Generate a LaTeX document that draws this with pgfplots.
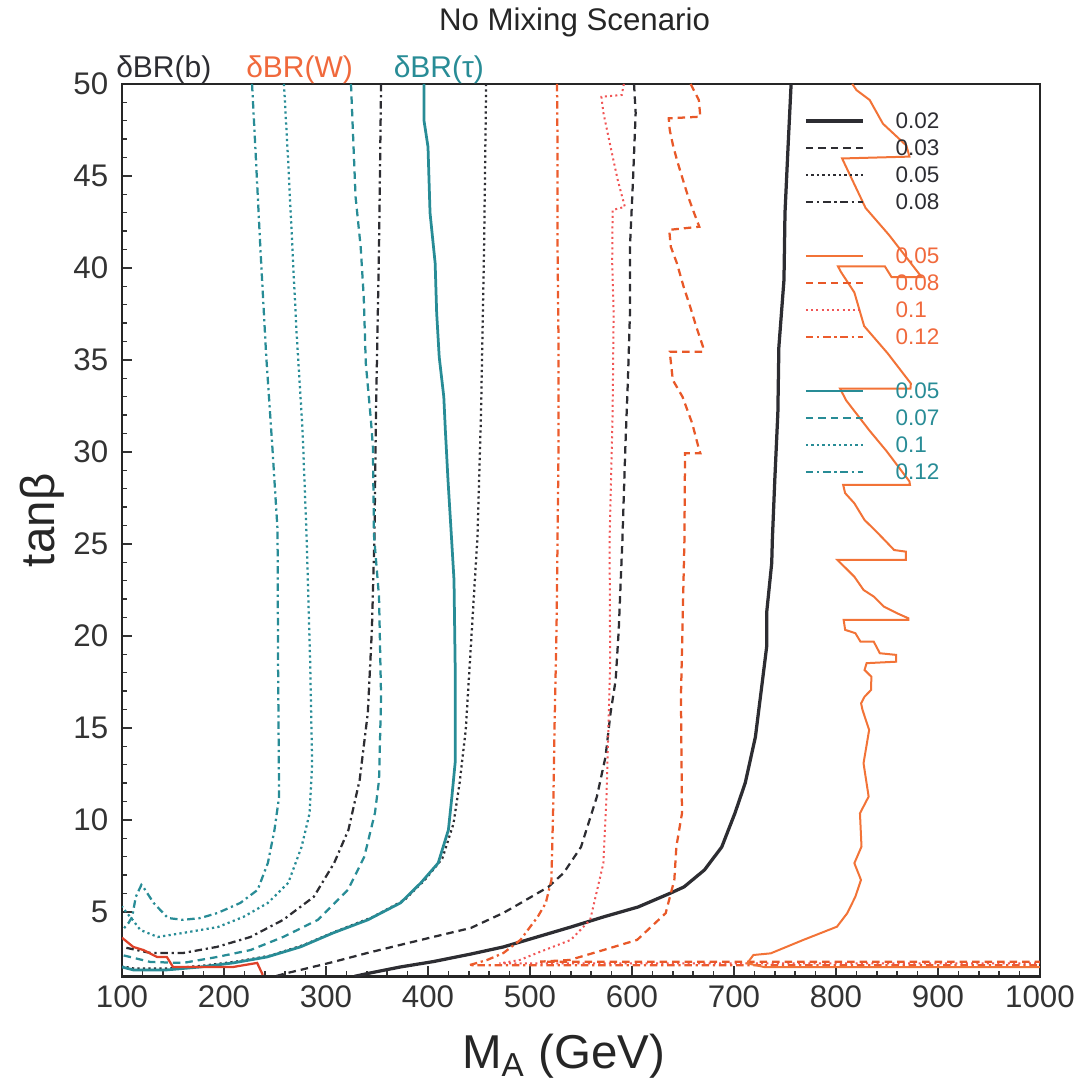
\documentclass[border=0pt]{standalone}
\usepackage{fontspec}
\setmainfont{Liberation Sans}
\usepackage{pgfplots}
\pgfplotsset{compat=1.18}

\definecolor{bcol}{RGB}{45,45,50}
\definecolor{tcol}{RGB}{40,140,150}
\definecolor{wsol}{RGB}{242,115,55}
\definecolor{wdash}{RGB}{232,88,40}
\definecolor{wdot}{RGB}{240,85,85}
\definecolor{wdd}{RGB}{236,92,45}
\definecolor{wtxt}{RGB}{240,105,60}
\definecolor{wred}{RGB}{222,65,40}

\tikzset{
  bsol/.style={draw=bcol, line width=1.3pt},
  bdash/.style={draw=bcol, line width=0.9pt, dash pattern=on 3pt off 2pt},
  bdot/.style={draw=bcol, line width=0.9pt, dash pattern=on 0.9pt off 1.3pt},
  bdd/.style={draw=bcol, line width=0.9pt, dash pattern=on 3pt off 1.5pt on 0.9pt off 1.5pt},
  wsolst/.style={draw=wsol, line width=0.8pt},
  wdashst/.style={draw=wdash, line width=0.9pt, dash pattern=on 3pt off 2pt},
  wdotst/.style={draw=wdot, line width=0.8pt, dash pattern=on 0.8pt off 1.3pt},
  wddst/.style={draw=wdd, line width=0.9pt, dash pattern=on 3pt off 1.5pt on 0.9pt off 1.5pt},
  tsol/.style={draw=tcol, line width=1.1pt},
  tdash/.style={draw=tcol, line width=0.9pt, dash pattern=on 3pt off 2pt},
  tdot/.style={draw=tcol, line width=0.9pt, dash pattern=on 0.9pt off 1.3pt},
  tdd/.style={draw=tcol, line width=0.9pt, dash pattern=on 3pt off 1.5pt on 0.9pt off 1.5pt},
}

\begin{document}
\begin{tikzpicture}
\begin{axis}[
  width=367.2pt, height=356.96pt, scale only axis,
  xmin=100, xmax=1000, ymin=1.5, ymax=50,
  xtick={100,200,...,1000}, ytick={5,10,...,50},
  minor x tick num=4, minor y tick num=4,
  tick align=inside, tick pos=left,
  major tick length=4pt, minor tick length=2.2pt,
  axis line style={line width=1pt, draw=black!85},
  every tick/.style={black!80, line width=0.6pt},
  tick label style={font=\fontsize{12.5}{14}\selectfont, text=black!80},
  /pgf/number format/assume math mode=true,
  /pgf/number format/1000 sep={},
  yticklabel style={xshift=-2pt},
  xlabel={M\textsubscript{A} (GeV)},
  xlabel style={at={(rel axis cs:0.481,0)}, anchor=base, yshift=-36.8pt,
    font=\fontsize{19}{22}\selectfont, text=black!85},
  ylabel={tanβ},
  ylabel style={at={(rel axis cs:-0.0865,0.511)}, anchor=center, rotate=0,
    font=\fontsize{19}{22}\selectfont, text=black!85},
  legend image code/.code={\draw[#1] (0pt,0pt) -- (22.8pt,0pt);},
  legend cell align=left,
  legend style={at={(axis cs:761,48.72)}, anchor=north west, draw=none, fill=none,
    font=\fontsize{9}{10}\selectfont, row sep=4.4pt, column sep=12.5pt,
    nodes={inner sep=0pt, text height=6.4pt, text depth=0pt}},
]

% delta BR(b), black
\addplot[bsol, forget plot] coordinates {
(756,50) (753,46.58) (750,42.99) (749,39.35) (744,35.71) (743,32.12) (740,28.48)
(737.6,25.22) (737,23.97) (732,21.25) (732,19.4) (728,17.61) (721,14.51) (711,12.01)
(701,10.38) (688,8.53) (671,7.28) (651,6.36) (638,6.03) (606,5.27) (572,4.73)
(540,4.18) (507,3.64) (474,3.1) (441,2.7) (405,2.3) (373,2.01) (343,1.68) (328,1.5)};
\addplot[bdash, forget plot] coordinates {
(602,50) (603.6,48.42) (601,44.78) (598,41.14) (598,37.55) (596,33.91) (593.5,30.27)
(590.6,25.22) (587,20.33) (584,17.61) (579,15.82) (574,13.42) (565.5,11.25) (550,8.53)
(533,7.12) (518,6.36) (491,5.49) (474,4.95) (442,4.13) (405,3.64) (373,3.21)
(340.5,2.77) (307,2.28) (275,1.85) (262,1.68) (250,1.5)};
\addplot[bdot, forget plot] coordinates {
(457,50) (455,41.14) (452,32.12) (448.5,25.38) (443,20.33) (437,14.89) (431,12.01)
(425,9.8) (414,7.9) (397,6.75) (377,5.65) (345,4.7) (310,3.95) (278,3.2) (245,2.62)
(212,2.3) (178,2.07) (145,1.92) (112,1.92) (100,2.05)};
\addplot[bdd, forget plot] coordinates {
(354,50) (352,41.14) (349,32.12) (347.5,25.38) (345,20.33) (341,15.82) (333,12.17)
(322,9.46) (308,7.66) (288,5.82) (258,4.57) (226,3.64) (193,3.1) (160,2.77)
(128,2.77) (100,3.1)};

% delta BR(tau), teal
\addplot[tsol, forget plot] coordinates {
(396,50) (396,48.04) (400,46.58) (402,42.99) (407,40.27) (408.5,37.55) (411,35.16)
(415.5,32.99) (417,31.2) (419.6,28.48) (423,25.38) (425.5,23.04) (426.6,18.53)
(426.6,13.1) (423.4,11.25) (420,9.46) (410,7.66) (393,6.58) (373,5.49) (341,4.57)
(307,3.86) (275,3.1) (242,2.55) (209,2.23) (177,2.01) (144,1.85) (111,1.85) (100,2.01)};
\addplot[tdash, forget plot] coordinates {
(324.5,50) (327,46.58) (329,43.86) (334,41.14) (337,38.42) (339,34.84) (344,31.74)
(346,30.27) (347,25.5) (352,22.12) (354,16.68) (352,12.17) (348,10.38) (337.5,7.99)
(321.5,6.2) (292,4.57) (258,3.64) (226,2.93) (193,2.55) (160,2.23) (128,2.28) (100,2.66)};
\addplot[tdot, forget plot] coordinates {
(258.8,50) (263,45.71) (267,41.14) (271,36.63) (277,31.2) (281,25.38) (284.5,18.53)
(286.4,13.1) (284,10.38) (276,8.53) (263,6.58) (243,5.49) (219,4.73) (194,4.18)
(160,3.86) (135,3.64) (118,4.02) (110,4.6) (104,5.0) (100,5.3)};
\addplot[tdd, forget plot] coordinates {
(227.5,50) (230.7,46.58) (235.6,41.14) (241.4,35.2) (247.4,30.27) (252.5,25.76)
(253,18.53) (254,11.25) (249.5,9.46) (243,7.66) (233,6.2) (216,5.49) (194,4.95)
(177,4.67) (160,4.57) (145,4.67) (131,5.49) (121.5,6.3) (119,6.47) (113.5,5.82)
(110,4.73) (106.4,4.4) (100.5,4.02)};

% delta BR(W), orange
\addplot[wddst, forget plot] coordinates {
(526.5,50) (527,46.58) (527,41.14) (528,35.71) (528,30.27) (527,25.22) (526,20.33)
(524,14.89) (523,11.25) (521,6.74) (515.5,5.49) (507.5,4.73) (490.6,3.48) (474,2.77)
(458,2.39) (440,2.1) (1000,2.1)};
\addplot[wdotst, forget plot] coordinates {
(592,50) (590,49.4) (570,49.3) (572,48.42) (579,46.58) (586,44.78) (593,43.32)
(581,43.15) (580.6,40.27) (582,37.55) (581,32.12) (578,25.22) (578.6,18.53) (575,11.25)
(572,7.66) (559,4.57) (540,3.48) (507,2.77) (490,2.39) (470,2.2) (1000,2.2)};
\addplot[wdashst, forget plot] coordinates {
(657.5,50) (665.5,49.13) (667,48.22) (636,48.13) (637,47.5) (640.5,46.59) (645,45.69)
(650,44.78) (655,43.88) (661,42.97) (666,42.24) (636.5,42.07) (638,41.16) (644,40.26)
(650.6,38.98) (657,37.9) (663,36.81) (669.6,35.72) (669.6,35.45) (637,35.45) (640,33.91)
(649.5,33.0) (659,31.56) (665,30.29) (667,29.93) (652,29.93) (651.4,25.22) (648,16.7)
(649,10.36) (643.5,8.55) (641.5,6.74) (633,4.93) (605,3.48) (572,2.93) (539,2.39)
(510,2.3) (1000,2.3)};
\addplot[wsolst, forget plot] coordinates {
(816,50) (820,49.67) (833,49.13) (846,47.84) (869,46.65) (872,46.05) (806,45.95)
(829,43.26) (852,41.79) (884,39.5) (854.5,39.5) (848,40.08) (802,40.08) (805,39.77)
(818,38.67) (827.6,36.84) (850.5,35.37) (873.4,33.72) (873,33.44) (804,33.44)
(810,32.8) (833,31.15) (849.5,30.05) (872,28.4) (872.5,28.21) (807,28.21) (809,27.76)
(818,27.21) (828,26.3) (838,25.76) (847.5,25.22) (857,24.67) (868.6,24.58) (868.5,24.13)
(801.5,24.13) (808,23.77) (818,23.22) (827,22.5) (837,22.14) (847,21.59) (860,21.23)
(871,20.96) (871,20.87) (807.5,20.87) (809,20.33) (819,20.15) (824,19.69) (837,19.69)
(843,19.06) (859,18.97) (859,18.6) (830,18.52) (828,18.15) (834.6,17.79) (834.5,17.07)
(828,16.7) (824.6,16.34) (826,15.98) (832.5,14.89) (827,13.08) (832,11.27) (823.5,10.36)
(825,8.55) (818,7.65) (824.5,6.74) (819,5.83) (811,4.93) (801,4.2) (768,3.48)
(736,2.75) (719,2.66) (713,2.21) (730,2.0) (1000,2.0)};
\addplot[draw=wred, line width=0.9pt, forget plot] coordinates {
(100,3.6) (111,3.1) (121,2.93) (134.5,2.55) (144,2.55) (150,2.01) (209,2.01)
(232.5,2.23) (238,1.58)};

% legend
\addlegendimage{bsol}\addlegendentry{\textcolor{bcol}{0.02}}
\addlegendimage{bdash}\addlegendentry{\textcolor{bcol}{0.03}}
\addlegendimage{bdot}\addlegendentry{\textcolor{bcol}{0.05}}
\addlegendimage{bdd}\addlegendentry{\textcolor{bcol}{0.08}}
\addlegendimage{empty legend}\addlegendentry{}
\addlegendimage{wsolst}\addlegendentry{\textcolor{wtxt}{0.05}}
\addlegendimage{wdashst}\addlegendentry{\textcolor{wtxt}{0.08}}
\addlegendimage{wdotst}\addlegendentry{\textcolor{wtxt}{0.1}}
\addlegendimage{wddst}\addlegendentry{\textcolor{wtxt}{0.12}}
\addlegendimage{empty legend}\addlegendentry{}
\addlegendimage{tsol}\addlegendentry{\textcolor{tcol}{0.05}}
\addlegendimage{tdash}\addlegendentry{\textcolor{tcol}{0.07}}
\addlegendimage{tdot}\addlegendentry{\textcolor{tcol}{0.1}}
\addlegendimage{tdd}\addlegendentry{\textcolor{tcol}{0.12}}

\coordinate (tl) at (rel axis cs:0,1);
\coordinate (bl) at (rel axis cs:0,0);
\end{axis}

% labels above the frame
\node[anchor=base, inner sep=0pt, font=\fontsize{12.5}{14}\selectfont, text=black!85]
  at ([xshift=181pt, yshift=21.2pt]tl) {No Mixing Scenario};
\node[anchor=base west, inner sep=0pt, font=\fontsize{12}{14}\selectfont, text=bcol]
  at ([xshift=-2.5pt, yshift=2.4pt]tl) {δBR(b)};
\node[anchor=base west, inner sep=0pt, font=\fontsize{12}{14}\selectfont, text=wtxt]
  at ([xshift=49.5pt, yshift=2.4pt]tl) {δBR(W)};
\node[anchor=base west, inner sep=0pt, font=\fontsize{12}{14}\selectfont, text=tcol]
  at ([xshift=108.5pt, yshift=2.4pt]tl) {δBR(τ)};

% page frame with the reference's margins
\path (bl) ++(-48.8pt,-44.66pt) rectangle ++(433.6pt,435.2pt);
\end{tikzpicture}
\end{document}
